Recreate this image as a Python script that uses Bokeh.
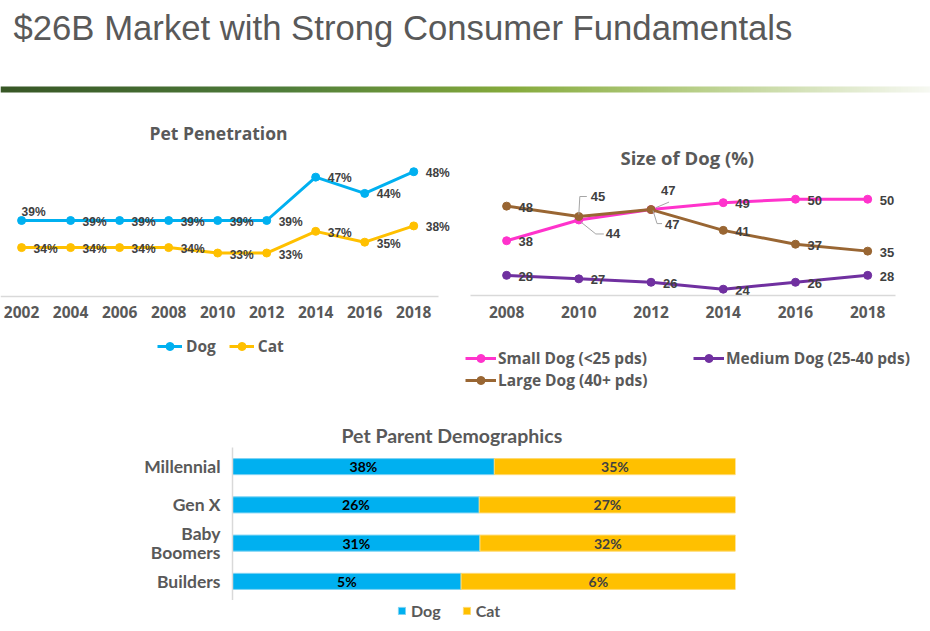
import numpy as np
from bokeh.plotting import figure
from bokeh.models import (Legend, LegendItem, FactorRange, FixedTicker, Range1d,
                          ColumnDataSource)
from bokeh.layouts import column, row
from bokeh.core.properties import value
from bokeh.embed import file_html
from bokeh.resources import INLINE

# ---------------- data ----------------
pen_years = [2002, 2004, 2006, 2008, 2010, 2012, 2014, 2016, 2018]
pen_dog = [39, 39, 39, 39, 39, 39, 47, 44, 48]
pen_cat = [34, 34, 34, 34, 33, 33, 37, 35, 38]

size_years = [2008, 2010, 2012, 2014, 2016, 2018]
small_dog = [38, 44, 47, 49, 50, 50]
medium_dog = [28, 27, 26, 24, 26, 28]
large_dog = [48, 45, 47, 41, 37, 35]

generations = ["Millennial", "Gen X", "Baby Boomers", "Builders"]
demo_dog = [38, 26, 31, 5]
demo_cat = [35, 27, 32, 6]

page_title = "$26B Market with Strong Consumer Fundamentals"

# ---------------- styles ----------------
DOG = "#00b0f0"
CAT = "#ffc000"
SMALL = "#ff33cc"
MEDIUM = "#7030a0"
LARGE = "#996633"
GREY_TXT = "#595959"
LBL_TXT = "#404040"
AXIS_GREY = "#d9d9d9"
UI_FONT = "Open Sans"
LBL_FONT = "Liberation Sans"
BAR_FONT = "Lato"


def bare(p):
    p.outline_line_color = None
    p.xgrid.visible = False
    p.ygrid.visible = False


def legend_fig(width, height):
    p = figure(width=width, height=height, x_range=Range1d(0, 1), y_range=Range1d(0, 1),
               x_axis_location=None, y_axis_location=None, toolbar_location=None,
               output_backend="svg", frame_align=False,
               min_border_left=0, min_border_right=0, min_border_top=0,
               min_border_bottom=0)
    bare(p)
    return p


# ---------------- header (page title + gradient rule), pixel space ----------------
hdr = figure(width=930, height=100, x_range=Range1d(0, 930), y_range=Range1d(100, 0),
             x_axis_location=None, y_axis_location=None, toolbar_location=None,
             output_backend="svg", min_border_left=0, min_border_right=0,
             min_border_top=0, min_border_bottom=0, frame_align=False)
bare(hdr)
hdr.text(x=[13], y=[27], text=[page_title], text_font=value(LBL_FONT),
         text_font_size="34.7px", text_color=GREY_TXT,
         text_align="left", text_baseline="alphabetic")

stops_pos = [0.0, 0.30, 0.55, 0.75, 1.0]
stops_rgb = [(0x38, 0x57, 0x26), (0x4f, 0x7d, 0x3a), (0x86, 0xab, 0x3c),
             (0xb9, 0xd0, 0x8a), (0xf7, 0xf9, 0xf3)]
t = np.linspace(0, 1, 400)
rgb = [np.interp(t, stops_pos, [c[k] for c in stops_rgb]) for k in range(3)]
img = np.zeros((1, 400), dtype=np.uint32)
view = img.view(dtype=np.uint8).reshape((1, 400, 4))
for k in range(3):
    view[0, :, k] = rgb[k].astype(np.uint8)
view[0, :, 3] = 255
hdr.image_rgba(image=[img], x=0, y=86, dw=930, dh=6)


def style_line_fig(p, ticks):
    bare(p)
    p.xaxis.ticker = FixedTicker(ticks=ticks)
    p.xaxis.axis_line_color = AXIS_GREY
    p.xaxis.axis_line_width = 1.5
    p.xaxis.major_tick_line_color = None
    p.xaxis.minor_tick_line_color = None
    p.xaxis.major_tick_out = 0
    p.xaxis.major_tick_in = 0
    p.xaxis.minor_tick_out = 0
    p.xaxis.major_label_standoff = 10
    p.xaxis.major_label_text_font = UI_FONT
    p.xaxis.major_label_text_font_style = "bold"
    p.xaxis.major_label_text_font_size = "15.5px"
    p.xaxis.major_label_text_color = GREY_TXT
    p.title.align = "left"
    p.title.text_font = UI_FONT
    p.title.text_font_style = "bold"
    p.title.text_color = GREY_TXT


legend_style = dict(label_text_font=UI_FONT, label_text_font_style="bold",
                    label_text_color=GREY_TXT, border_line_color=None,
                    background_fill_alpha=0, margin=0, padding=0)

# ---------------- Pet Penetration ----------------
X1 = (2001.14, 2020.03)
f1 = figure(width=463, height=310, x_range=Range1d(*X1),
            y_range=Range1d(13.17, 50.07), y_axis_location=None,
            toolbar_location=None, output_backend="svg", frame_align=False,
            min_border_left=0, min_border_right=0, min_border_top=60,
            min_border_bottom=50, title="Pet Penetration")
style_line_fig(f1, pen_years)
f1.xaxis.fixed_location = 25.03
f1.xaxis.bounds = (X1[0], 2019.0)
f1.title.offset = 149
f1.title.standoff = 31
f1.title.text_font_size = "17.5px"

r_dog_l = f1.line(pen_years, pen_dog, line_color=DOG, line_width=3)
r_dog_s = f1.scatter(pen_years, pen_dog, size=8, fill_color=DOG, line_color=DOG)
r_cat_l = f1.line(pen_years, pen_cat, line_color=CAT, line_width=3)
r_cat_s = f1.scatter(pen_years, pen_cat, size=8, fill_color=CAT, line_color=CAT)

dog_xo = [0] + [12] * (len(pen_years) - 1)
dog_yo = [-9] + [1] * (len(pen_years) - 1)
f1.text(x=pen_years, y=pen_dog, text=[f"{v}%" for v in pen_dog],
        x_offset=dog_xo, y_offset=dog_yo,
        text_font=value(LBL_FONT), text_font_style="bold", text_font_size="12px",
        text_color=LBL_TXT, text_align="left", text_baseline="middle")
f1.text(x=pen_years, y=pen_cat, text=[f"{v}%" for v in pen_cat],
        x_offset=12, y_offset=1.5,
        text_font=value(LBL_FONT), text_font_style="bold", text_font_size="12px",
        text_color=LBL_TXT, text_align="left", text_baseline="middle")

f1.add_layout(Legend(items=[LegendItem(label="Dog", renderers=[r_dog_l, r_dog_s]),
                            LegendItem(label="Cat", renderers=[r_cat_l, r_cat_s])],
                     orientation="horizontal", location=(157, 3),
                     glyph_width=25, glyph_height=20, label_standoff=4, spacing=13,
                     label_text_font_size="15.5px", **legend_style))

# ---------------- Size of Dog ----------------
X2 = (2007.0, 2018.77)
Y2 = (22.18, 56.85)
W2, H2 = 467, 241
ML2, MR2, MT2, MB2 = 7, 35, 75, 46
f2 = figure(width=W2, height=H2, x_range=Range1d(*X2), y_range=Range1d(*Y2),
            y_axis_location=None, toolbar_location=None, output_backend="svg",
            frame_align=False,
            min_border_left=ML2, min_border_right=MR2, min_border_top=MT2,
            min_border_bottom=MB2, title="Size of Dog (%)")
style_line_fig(f2, size_years)
f2.title.offset = 150
f2.title.standoff = 11
f2.title.text_font_size = "18.5px"

px_x = (X2[1] - X2[0]) / (W2 - ML2 - MR2)
px_y = (Y2[1] - Y2[0]) / (H2 - MT2 - MB2)

series = [("Small Dog (<25 pds)", small_dog, SMALL),
          ("Medium Dog (25-40 pds)", medium_dog, MEDIUM),
          ("Large Dog (40+ pds)", large_dog, LARGE)]

special = {
    ("Large Dog (40+ pds)", 1): ((12, -20), [(0, -2), (1, -20), (8, -20)]),
    ("Small Dog (<25 pds)", 1): ((27, 14), [(2, 2), (17, 14), (25, 14)]),
    ("Large Dog (40+ pds)", 2): ((10, -19), [(5, -2), (18, -7.5)]),
    ("Small Dog (<25 pds)", 2): ((14, 15), [(2, 1), (6, 14), (11, 14)]),
}

# legend strip below (its renderers plot the same series, outside the strip's 0..1 view)
f2L = legend_fig(467, 69)
items2 = []
lead_xs, lead_ys = [], []
for name, vals, col in series:
    f2.line(size_years, vals, line_color=col, line_width=3)
    f2.scatter(size_years, vals, size=8, fill_color=col, line_color=col)
    rl = f2L.line(size_years, vals, line_color=col, line_width=3)
    rs = f2L.scatter(size_years, vals, size=8, fill_color=col, line_color=col)
    items2.append(LegendItem(label=name, renderers=[rl, rs]))
    xo, yo = [], []
    for i, (yr, v) in enumerate(zip(size_years, vals)):
        if (name, i) in special:
            (ox, oy), path = special[(name, i)]
            xo.append(ox)
            yo.append(oy)
            lead_xs.append([yr + dx * px_x for dx, dy in path])
            lead_ys.append([v - dy * px_y for dx, dy in path])
        else:
            xo.append(12)
            yo.append(1)
    f2.text(x=size_years, y=vals, text=[str(v) for v in vals],
            x_offset=xo, y_offset=yo,
            text_font=value(LBL_FONT), text_font_style="bold", text_font_size="13px",
            text_color=LBL_TXT, text_align="left", text_baseline="middle")

f2.multi_line(lead_xs, lead_ys, line_color="#a6a6a6", line_width=1)

f2L.add_layout(Legend(items=items2, orientation="horizontal", ncols=2,
                      location=(2, 19), glyph_width=31, glyph_height=20,
                      label_standoff=2, spacing=0, label_width=195,
                      label_text_font_size="15.5px", **legend_style))

# ---------------- Pet Parent Demographics ----------------
wrapped = {"Baby Boomers": "Baby\nBoomers"}
gen_axis = [wrapped.get(g, g) for g in generations]
dog_share = [d / (d + c) for d, c in zip(demo_dog, demo_cat)]
src = ColumnDataSource(dict(
    gen=gen_axis, dog=dog_share, cat=[1 - s for s in dog_share],
    dog_mid=[s / 2 for s in dog_share],
    cat_mid=[s + (1 - s) / 2 for s in dog_share],
    dog_lbl=[f"{v}%" for v in demo_dog],
    cat_lbl=[f"{v}%" for v in demo_cat],
))

f3 = figure(width=930, height=190, y_range=FactorRange(factors=list(reversed(gen_axis))),
            x_range=Range1d(0, 1), x_axis_location=None,
            toolbar_location=None, output_backend="svg", frame_align=False,
            min_border_left=232, min_border_right=195, min_border_top=37,
            min_border_bottom=0, title="Pet Parent Demographics")
bare(f3)
f3.title.align = "left"
f3.title.offset = 109
f3.title.standoff = 2
f3.title.text_font = BAR_FONT
f3.title.text_font_style = "bold"
f3.title.text_font_size = "19.5px"
f3.title.text_color = GREY_TXT
f3.yaxis.axis_line_color = AXIS_GREY
f3.yaxis.axis_line_width = 1.5
f3.yaxis.major_tick_line_color = None
f3.yaxis.minor_tick_line_color = None
f3.yaxis.major_tick_out = 0
f3.yaxis.major_label_standoff = 12
f3.yaxis.major_label_text_font = BAR_FONT
f3.yaxis.major_label_text_font_style = "bold"
f3.yaxis.major_label_text_font_size = "17.5px"
f3.yaxis.major_label_text_line_height = 0.9
f3.yaxis.major_label_text_color = GREY_TXT

f3.hbar_stack(["dog", "cat"], y="gen", height=0.42, source=src,
              fill_color=[DOG, CAT], line_color=["#7fd3f3", "#ffd970"],
              line_width=1)
f3.text(x="dog_mid", y="gen", text="dog_lbl", source=src,
        text_font=value(BAR_FONT), text_font_style="bold", text_font_size="14px",
        text_color="#000000", text_align="center", text_baseline="middle")
f3.text(x="cat_mid", y="gen", text="cat_lbl", source=src,
        text_font=value(BAR_FONT), text_font_style="bold", text_font_size="14px",
        text_color=LBL_TXT, text_align="center", text_baseline="middle")

f3L = legend_fig(930, 31)
items3 = []
for name, vals, col, edge in [("Dog", demo_dog, DOG, "#7fd3f3"),
                              ("Cat", demo_cat, CAT, "#ffd970")]:
    rb = f3L.rect(vals, vals, width=1, height=1, fill_color=col, line_color=edge)
    items3.append(LegendItem(label=name, renderers=[rb]))
f3L.add_layout(Legend(items=items3, orientation="horizontal", location=(397, 11),
                      glyph_width=9, glyph_height=9, label_standoff=5, spacing=21,
                      label_height=18, label_text_font_size="16px",
                      **{**legend_style, "label_text_font": BAR_FONT}))

layout = column(hdr, row(f1, column(f2, f2L)), column(f3, f3L))
open("out.html", "w").write(file_html(layout, INLINE))
